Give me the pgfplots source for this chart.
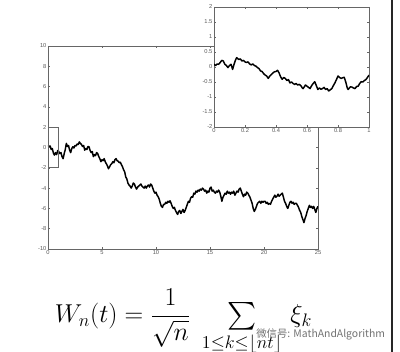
\RequirePackage{fix-cm}
\documentclass[border=0pt]{standalone}
\usepackage{exscale}
\usepackage[no-math]{fontspec}
\setmainfont{Liberation Sans}
\newfontfamily\cjk{Noto Sans CJK SC}
\usepackage{pgfplots}
\pgfplotsset{compat=1.18}
\pgfplotsset{mlab/.style={
  scale only axis, axis line style={black!60}, tick style={black!60, line width=0.4pt},
  tick align=inside, major tick length=1.8pt,
  xtick pos=both, ytick pos=both, xticklabel pos=lower, yticklabel pos=left,
  ticklabel style={font=\fontsize{4.3}{5}\selectfont, text=black!65, inner sep=1pt},
  /pgf/number format/assume math mode=true,
  clip=true}}
\begin{document}
\begin{tikzpicture}
\useasboundingbox (0,0) rectangle (300pt,264pt);
\clip (0,0) rectangle (300pt,264pt);
\fill[white] (0,0) rectangle (300pt,264pt);
\begin{axis}[mlab, at={(36pt,77.25pt)}, anchor=south west, width=202.5pt, height=152.25pt,
  xmin=0, xmax=25, ymin=-10, ymax=10, xtick={0,5,...,25}, ytick={-10,-8,...,10}]
\addplot[black, line width=1.1pt, line join=round] coordinates {
(0,0.2)(0.1,0.1)(0.2,0.15)(0.3,-0.2)(0.4,-0.1)(0.5,-0.55)(0.6,-0.75)(0.7,-0.5)(0.8,-0.7)(0.9,-0.3)
(1.0,-0.4)(1.1,-0.6)(1.2,-0.5)(1.3,-0.9)(1.4,-1.1)(1.5,-0.6)(1.6,-0.2)(1.7,0.4)(1.8,0.1)(1.9,0.2)
(2.0,-0.26)(2.1,-0.5)(2.2,-0.1)(2.3,0.07)(2.4,-0.05)(2.5,0.2)(2.6,0.15)(2.7,0.35)(2.8,0.3)(2.9,0.55)
(3.0,0.4)(3.1,0.3)(3.2,0.1)(3.3,0.2)(3.4,-0.26)(3.5,-0.1)(3.6,-0.2)(3.7,0.1)(3.8,0.07)(3.9,-0.3)
(4.0,-0.5)(4.1,-0.4)(4.2,-0.9)(4.3,-0.7)(4.4,-0.8)(4.5,-0.5)(4.6,-0.6)(4.7,-0.9)(4.8,-1.1)(4.9,-1.4)
(5.0,-1.2)(5.1,-1.3)(5.2,-1.1)(5.3,-1.4)(5.4,-1.6)(5.5,-1.8)(5.6,-2.1)(5.7,-1.9)(5.8,-1.7)(5.9,-1.6)
(6.0,-1.4)(6.1,-1.5)(6.2,-1.2)(6.3,-1.1)(6.4,-1.3)(6.5,-1.35)(6.6,-1.5)(6.7,-1.45)(6.8,-1.7)(6.9,-1.9)
(7.0,-2.2)(7.1,-2.4)(7.2,-2.9)(7.3,-3.1)(7.4,-3.5)(7.5,-3.7)(7.6,-3.8)(7.7,-4.0)(7.8,-3.8)(7.9,-3.5)
(8.0,-3.6)(8.1,-3.9)(8.2,-4.1)(8.3,-3.9)(8.4,-3.8)(8.5,-3.7)(8.6,-3.6)(8.7,-3.8)(8.8,-3.9)(8.9,-4.0)
(9.0,-3.8)(9.1,-4.0)(9.2,-3.8)(9.3,-3.7)(9.4,-3.9)(9.5,-3.6)(9.6,-3.7)(9.7,-4.0)(9.8,-4.3)(9.9,-4.5)
(10.0,-4.4)(10.1,-4.7)(10.2,-4.85)(10.3,-5.1)(10.4,-5.5)(10.5,-5.8)(10.6,-5.9)(10.7,-5.6)(10.8,-5.6)(10.9,-5.4)
(11.0,-5.5)(11.1,-5.3)(11.2,-5.4)(11.3,-5.25)(11.4,-5.5)(11.5,-5.8)(11.6,-6.0)(11.7,-5.9)(11.8,-6.2)(11.9,-6.4)
(12.0,-6.6)(12.1,-6.3)(12.2,-6.2)(12.3,-6.5)(12.4,-6.3)(12.5,-6.1)(12.6,-6.4)(12.7,-6.2)(12.8,-5.9)(12.9,-5.6)
(13.0,-5.3)(13.1,-5.4)(13.2,-5.0)(13.3,-4.85)(13.4,-4.9)(13.5,-4.5)(13.6,-4.6)(13.7,-4.3)(13.8,-4.4)(13.9,-4.2)
(14.0,-4.3)(14.1,-4.1)(14.2,-4.2)(14.3,-4.0)(14.4,-4.1)(14.5,-4.3)(14.6,-4.2)(14.7,-4.5)(14.8,-4.3)(14.9,-4.4)
(15.0,-4.0)(15.1,-3.9)(15.2,-4.3)(15.3,-4.2)(15.4,-4.4)(15.5,-4.5)(15.6,-4.3)(15.7,-4.4)(15.8,-4.2)(15.9,-4.4)
(16.0,-4.8)(16.1,-5.3)(16.2,-4.9)(16.3,-4.7)(16.4,-4.5)(16.5,-4.6)(16.6,-4.3)(16.7,-4.5)(16.8,-4.4)(16.9,-4.6)
(17.0,-4.4)(17.1,-4.5)(17.2,-4.3)(17.3,-4.7)(17.4,-4.5)(17.5,-4.3)(17.6,-4.4)(17.7,-4.1)(17.8,-4.0)(17.9,-4.3)
(18.0,-4.6)(18.1,-4.85)(18.2,-4.6)(18.3,-4.7)(18.4,-4.4)(18.5,-4.5)(18.6,-4.7)(18.7,-4.9)(18.8,-5.2)(18.9,-5.5)
(19.0,-6.0)(19.1,-6.3)(19.2,-6.1)(19.3,-5.8)(19.4,-5.5)(19.5,-5.4)(19.6,-5.3)(19.7,-5.5)(19.8,-5.3)(19.9,-5.4)
(20.0,-5.3)(20.1,-5.3)(20.2,-5.5)(20.3,-5.4)(20.4,-5.6)(20.5,-5.5)(20.6,-5.6)(20.7,-5.3)(20.8,-5.1)(20.9,-4.9)
(21.0,-4.7)(21.1,-4.9)(21.2,-4.8)(21.3,-4.6)(21.4,-4.8)(21.5,-4.7)(21.6,-4.6)(21.7,-4.5)(21.8,-4.9)(21.9,-5.3)
(22.0,-5.5)(22.1,-5.8)(22.2,-6.0)(22.3,-5.7)(22.4,-5.4)(22.5,-5.3)(22.6,-5.5)(22.7,-5.4)(22.8,-5.6)(22.9,-5.5)
(23.0,-5.5)(23.1,-5.7)(23.2,-5.9)(23.3,-6.2)(23.4,-6.4)(23.5,-6.8)(23.6,-7.1)(23.7,-7.4)(23.8,-7.0)(23.9,-6.7)
(24.0,-6.3)(24.1,-6.0)(24.2,-5.7)(24.3,-5.9)(24.4,-5.8)(24.5,-6.0)(24.6,-5.8)(24.7,-6.1)(24.8,-6.4)(24.9,-6.0)
(25.0,-5.8)};
\draw[black!60, line width=0.5pt] (axis cs:0,-2) rectangle (axis cs:1,2);
\end{axis}
\begin{axis}[mlab, at={(160.5pt,168.75pt)}, anchor=south west, width=116.25pt, height=90pt,
  axis background/.style={fill=white},
  xmin=0, xmax=1, ymin=-2, ymax=2, xtick={0,0.2,...,1}, ytick={-2,-1.5,...,2}]
\addplot[black, line width=1.1pt, line join=round] coordinates {
(0,0.09)(0.01,0.05)(0.02,0.1)(0.03,0.09)(0.04,0.15)(0.05,0.22)(0.06,0.2)(0.07,0.09)(0.08,0.05)(0.09,-0.02)
(0.10,0.05)(0.11,0.09)(0.12,-0.08)(0.13,0.1)(0.14,0.25)(0.146,0.31)(0.16,0.25)(0.17,0.27)(0.18,0.2)(0.19,0.22)
(0.20,0.17)(0.21,0.15)(0.22,0.17)(0.23,0.1)(0.24,0.07)(0.25,0.1)(0.26,0.05)(0.27,0.03)(0.28,-0.02)(0.29,-0.05)
(0.30,-0.13)(0.31,-0.15)(0.32,-0.22)(0.33,-0.27)(0.34,-0.3)(0.35,-0.38)(0.36,-0.3)(0.37,-0.25)(0.38,-0.2)(0.39,-0.16)
(0.40,-0.15)(0.41,-0.11)(0.42,-0.2)(0.43,-0.33)(0.44,-0.41)(0.45,-0.35)(0.46,-0.38)(0.47,-0.45)(0.48,-0.42)(0.49,-0.53)
(0.50,-0.5)(0.51,-0.55)(0.52,-0.58)(0.53,-0.55)(0.54,-0.6)(0.55,-0.58)(0.56,-0.62)(0.57,-0.7)(0.575,-0.72)(0.59,-0.6)
(0.60,-0.64)(0.61,-0.68)(0.62,-0.72)(0.63,-0.62)(0.64,-0.55)(0.65,-0.49)(0.66,-0.62)(0.67,-0.75)(0.68,-0.7)(0.69,-0.74)
(0.70,-0.72)(0.71,-0.68)(0.72,-0.75)(0.73,-0.72)(0.74,-0.8)(0.75,-0.76)(0.76,-0.72)(0.77,-0.62)(0.78,-0.53)(0.79,-0.42)
(0.80,-0.3)(0.81,-0.35)(0.82,-0.38)(0.83,-0.36)(0.84,-0.34)(0.85,-0.5)(0.86,-0.7)(0.865,-0.75)(0.88,-0.66)(0.89,-0.67)
(0.90,-0.7)(0.91,-0.72)(0.92,-0.65)(0.93,-0.64)(0.94,-0.55)(0.95,-0.49)(0.96,-0.5)(0.97,-0.45)(0.98,-0.42)(0.99,-0.35)
(1.00,-0.27)};
\end{axis}
\node[anchor=base west, inner sep=0pt] at (41pt,22pt)
  {\fontsize{19.4}{24}\selectfont $\displaystyle W_n(t)=\frac{1}{\sqrt{n}}\;\mathop{\textstyle\sum}\limits_{1\le k\le\lfloor nt\rfloor}\,\xi_k$};
\node[anchor=west, inner sep=0pt, text=black!55] at (192pt,13.5pt)
  {\cjk\fontsize{7.8}{10}\selectfont 微信号: MathAndAlgorithm};
\draw[black!85, line width=1.6pt] (294pt,0) -- (294pt,264pt);
\end{tikzpicture}
\end{document}
